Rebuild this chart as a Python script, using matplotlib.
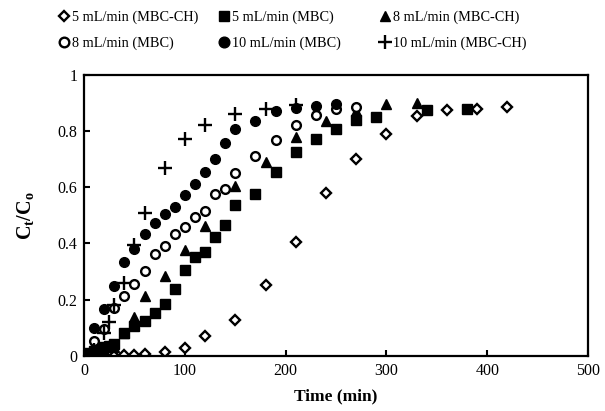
import matplotlib
matplotlib.use("Agg")
import matplotlib.pyplot as plt

plt.rcParams.update({
    "font.family": "Liberation Serif",
    "mathtext.fontset": "custom",
    "mathtext.rm": "Liberation Serif",
    "mathtext.bf": "Liberation Serif:bold",
    "mathtext.it": "Liberation Serif:italic",
})

# 5 mL/min (MBC-CH) - open diamonds
t_5_ch = [0, 10, 20, 30, 40, 50, 60, 80, 100, 120, 150, 180, 210, 240, 270, 300, 330, 360, 390, 420]
c_5_ch = [0, 0, 0, 0, 0.003, 0.004, 0.006, 0.014, 0.027, 0.071, 0.127, 0.252, 0.405, 0.581,
          0.702, 0.789, 0.854, 0.875, 0.879, 0.885]

# 5 mL/min (MBC) - filled squares
t_5_mbc = [0, 5, 10, 15, 20, 25, 30, 40, 50, 60, 70, 80, 90, 100, 110, 120, 130, 140, 150,
           170, 190, 210, 230, 250, 270, 290, 340, 380]
c_5_mbc = [0, 0.01, 0.018, 0.025, 0.03, 0.035, 0.042, 0.08, 0.107, 0.125, 0.151, 0.185, 0.238,
           0.307, 0.351, 0.371, 0.423, 0.467, 0.536, 0.575, 0.655, 0.726, 0.771, 0.806, 0.839,
           0.851, 0.875, 0.879]

# 8 mL/min (MBC-CH) - filled triangles
t_8_ch = [0, 10, 20, 30, 40, 50, 60, 80, 100, 120, 150, 180, 210, 240, 270, 300, 330]
c_8_ch = [0, 0.01, 0.02, 0.03, 0.08, 0.14, 0.214, 0.283, 0.377, 0.462, 0.603, 0.69, 0.78,
          0.836, 0.87, 0.895, 0.901]

# 8 mL/min (MBC) - open circles
t_8_mbc = [0, 10, 20, 30, 40, 50, 60, 70, 80, 90, 100, 110, 120, 130, 140, 150, 170, 190,
           210, 230, 250, 270]
c_8_mbc = [0, 0.054, 0.096, 0.172, 0.212, 0.256, 0.301, 0.363, 0.39, 0.432, 0.46, 0.494,
           0.515, 0.575, 0.595, 0.649, 0.711, 0.768, 0.821, 0.857, 0.877, 0.884]

# 10 mL/min (MBC) - filled circles
t_10_mbc = [0, 10, 20, 30, 40, 50, 60, 70, 80, 90, 100, 110, 120, 130, 140, 150, 170, 190,
            210, 230, 250]
c_10_mbc = [0, 0.101, 0.167, 0.25, 0.333, 0.38, 0.432, 0.473, 0.504, 0.53, 0.571, 0.61,
            0.655, 0.702, 0.756, 0.806, 0.837, 0.873, 0.881, 0.889, 0.897]

# 10 mL/min (MBC-CH) - plus
t_10_ch = [0, 10, 20, 25, 30, 40, 50, 60, 80, 100, 120, 150, 180, 210]
c_10_ch = [0, 0.02, 0.08, 0.12, 0.18, 0.26, 0.395, 0.51, 0.667, 0.77, 0.82, 0.86, 0.88, 0.893]

fig = plt.figure(figsize=(6.05, 4.11), dpi=100)
ax = fig.add_axes([0.139, 0.134, 0.833, 0.684])

h_d, = ax.plot(t_5_ch, c_5_ch, "D", ms=4.6, mfc="white", mec="black", mew=1.7, ls="none",
               label="5 mL/min (MBC-CH)")
h_s, = ax.plot(t_5_mbc, c_5_mbc, "s", ms=6.5, color="black", ls="none",
               label="5 mL/min (MBC)")
h_t, = ax.plot(t_8_ch, c_8_ch, "^", ms=7, color="black", ls="none",
               label="8 mL/min (MBC-CH)")
h_o, = ax.plot(t_8_mbc, c_8_mbc, "o", ms=6.3, mfc="white", mec="black", mew=1.7, ls="none",
               label="8 mL/min (MBC)")
h_f, = ax.plot(t_10_mbc, c_10_mbc, "o", ms=7, color="black", ls="none",
               label="10 mL/min (MBC)")
h_p, = ax.plot(t_10_ch, c_10_ch, "+", ms=9.5, mew=1.7, color="black", ls="none",
               label="10 mL/min (MBC-CH)")

ax.set_xlim(0, 500)
ax.set_ylim(0, 1)
ax.set_xticks([0, 100, 200, 300, 400, 500])
ax.set_yticks([0, 0.2, 0.4, 0.6, 0.8, 1])
ax.set_yticklabels(["0", "0.2", "0.4", "0.6", "0.8", "1"])
ax.tick_params(direction="in", length=4, width=1.5, labelsize=11.5, pad=5)
for s in ax.spines.values():
    s.set_linewidth(1.6)

ax.set_xlabel("Time (min)", fontsize=12.5, fontweight="bold", labelpad=7)
ax.set_ylabel(r"$\mathbf{C_t/C_o}$", fontsize=14.5, labelpad=15)

# legend: three fixed columns, two rows each
for x0, pair in [(0.077, [h_d, h_o]), (0.3415, [h_s, h_f]), (0.6076, [h_t, h_p])]:
    fig.legend(pair, [h.get_label() for h in pair], loc="upper left",
               bbox_to_anchor=(x0, 1.005), frameon=False, fontsize=10.3,
               handlelength=0.7, handletextpad=0.15, labelspacing=0.85, markerscale=1.1)

fig.savefig("out.png", dpi=100)
